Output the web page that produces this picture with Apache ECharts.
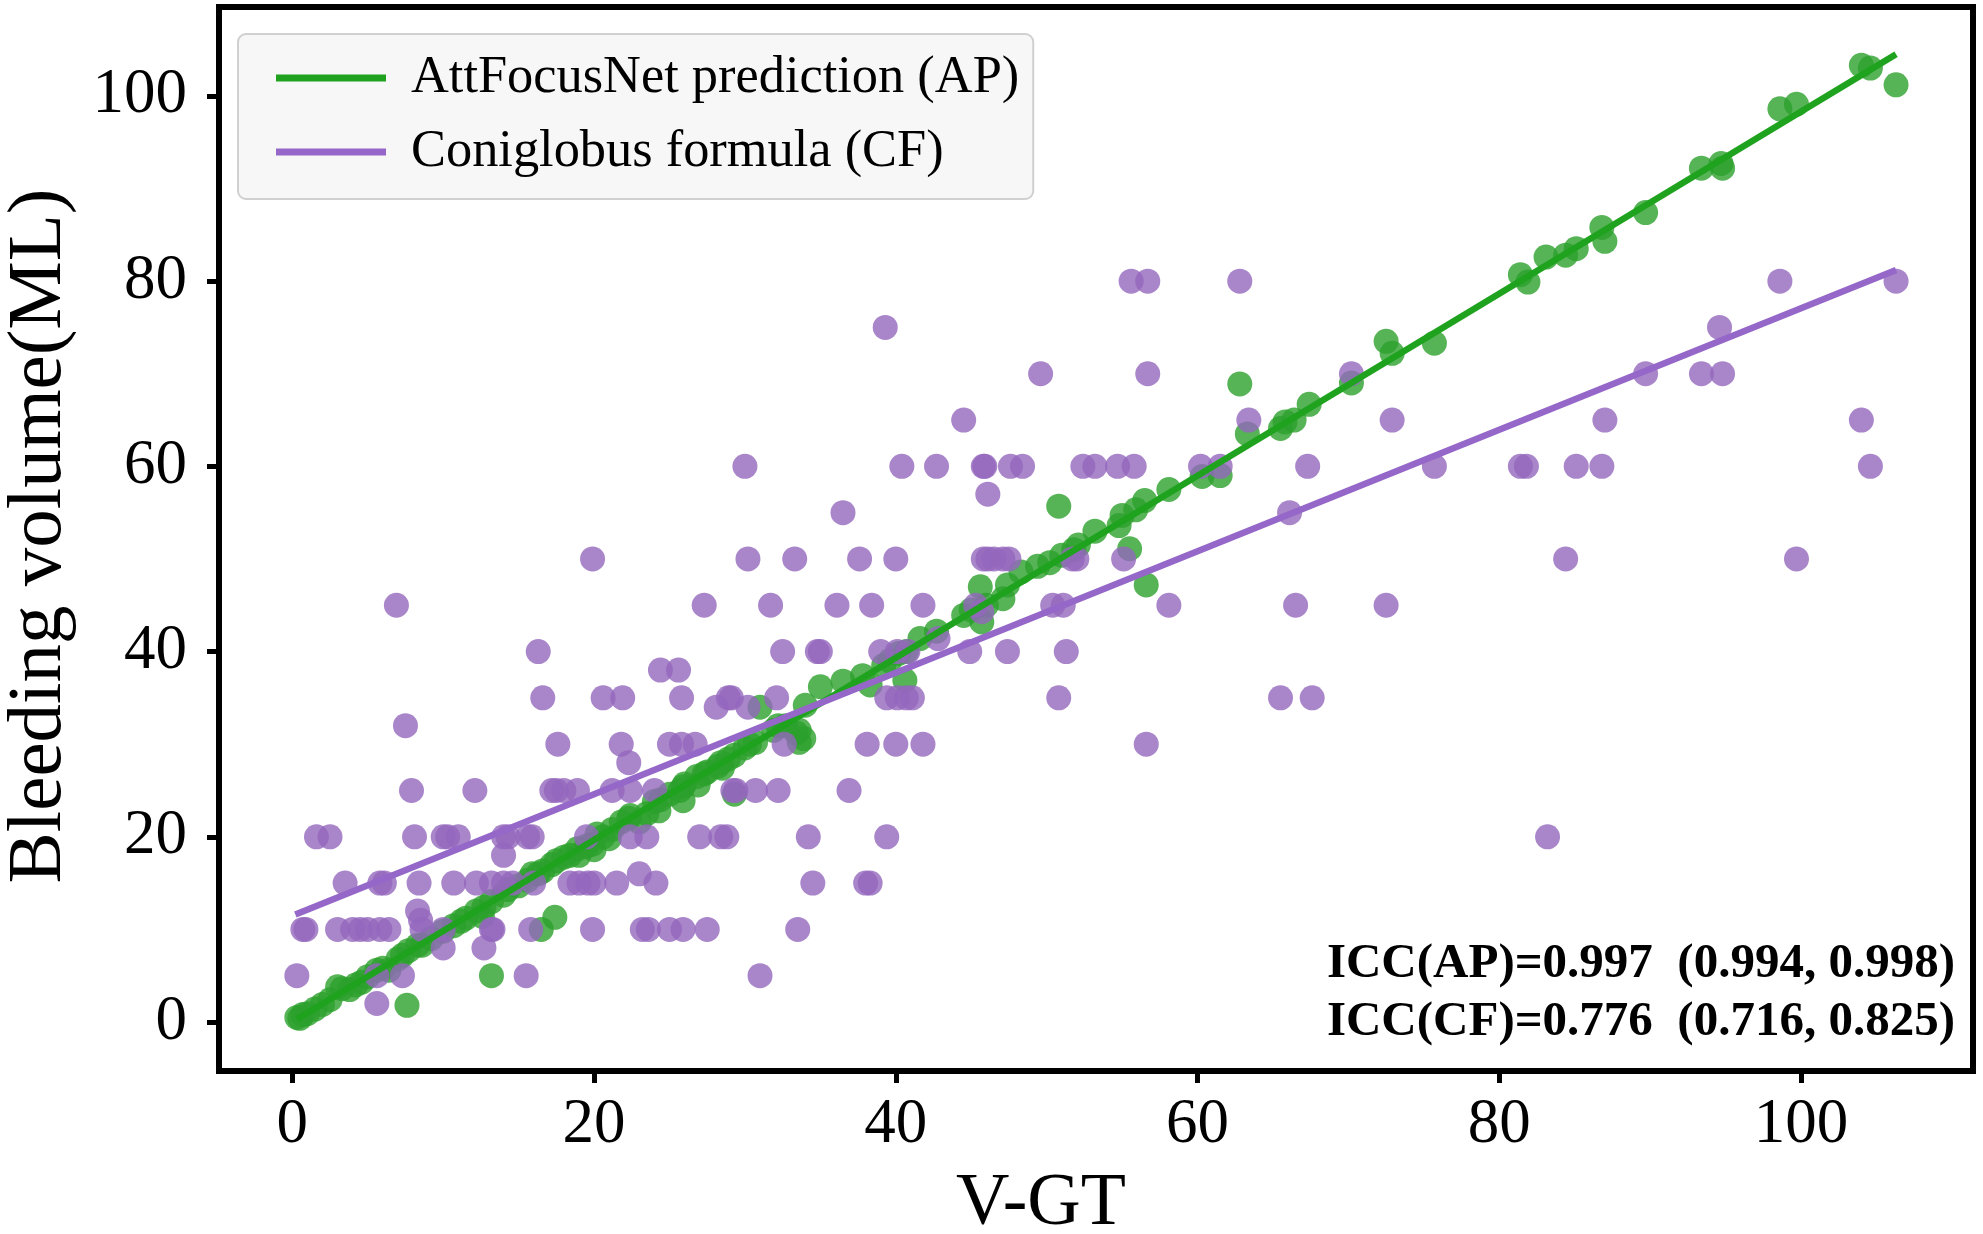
<!DOCTYPE html>
<html><head><meta charset="utf-8">
<style>html,body{margin:0;padding:0;background:#fff}#c{width:1983px;height:1234px}</style>
<script src="https://cdn.jsdelivr.net/npm/echarts@6/dist/echarts.min.js"></script>
</head><body><div id="c"></div>
<script>
const xTicks=[0,20,40,60,80,100];
const yTicks=[0,20,40,60,80,100];
const apName='AttFocusNet prediction (AP)';
const cfName='Coniglobus formula (CF)';
const apLine=[[0.3,0.3],[106.3,104.5]];
const cfLine=[[0.2,11.6],[106.3,81.2]];
const apPoints=[[0.3,0.5],[0.5,0.4],[0.7,0.8],[1,0.9],[1.5,1.4],[2,1.9],[2.5,2.4],[3,3.8],[3.3,3.6],[3.8,3.5],[4.2,4],[4.6,4.3],[5,4.9],[5.6,5.6],[6,5.8],[6.4,5.6],[7,6.8],[7.3,7.2],[7.7,7.7],[8.3,8.3],[8.6,8.3],[9.2,9],[10,9.8],[10.7,10.4],[11.2,10.9],[11.5,11.2],[12.2,12],[12.6,11.4],[12.7,12.4],[13.2,13],[14,13.7],[14.3,14.3],[15,14.7],[15.6,15.3],[15.9,16],[16.3,16],[16.6,16.3],[17.2,17],[17.5,17.4],[18,17.8],[18.4,18],[18.9,18.7],[19,18],[19.5,19],[19.9,19.2],[20,18.6],[20.2,20.3],[20.6,20],[21,19.8],[21.2,20.8],[21.8,21.6],[22.3,22],[22.4,22.3],[23,21.6],[23.5,22.5],[24,23.8],[24.3,22.8],[24.4,24],[25,24.6],[25.7,25],[25.9,23.9],[25.9,25.4],[26,25.7],[26.8,26.5],[26.9,25.6],[27.3,26.8],[27.5,27],[28.2,27.6],[28.4,28],[28.5,27.4],[28.9,28.4],[29.3,28.8],[30,29.6],[30.3,30],[30.7,30.2],[31.9,31.5],[32.2,32],[32.7,32],[33.4,31.2],[33.6,31.5],[33.6,30.2],[34,34.2],[35,36.2],[36.5,36.8],[37.8,37.4],[38.3,36.4],[39.2,38.5],[39.6,39],[40.2,39.8],[40.7,40],[41.6,41.4],[42.7,42.2],[44.5,43.9],[45,44.5],[45.7,43.2],[46,45],[47.1,45.7],[47.4,47.2],[48.3,48.6],[49.4,49.2],[50.2,49.6],[51,50.4],[51.8,51],[52.1,51.5],[53.2,53],[54.8,53.6],[55,54.7],[55.9,55.3],[56.5,56.3],[58.1,57.5],[60.3,58.9],[61.5,59],[63.3,63.5],[65.5,64.1],[65.8,64.8],[66.4,65],[67.4,66.7],[70.2,69],[72.9,72.2],[75.7,73.3],[81.4,80.7],[81.9,79.9],[83.1,82.6],[84.4,82.8],[85.1,83.5],[86.8,85.8],[87,84.3],[89.7,87.4],[93.4,92.2],[94.7,92.7],[94.8,92.2],[98.6,98.6],[99.7,99.1],[104,103.3],[104.6,103],[106.3,101.2]];
const apOutliers=[[7.6,1.8],[13.2,5],[16.5,10],[17.4,11.3],[29.3,24.6],[31,34],[33.9,30.6],[40.6,36.9],[45.6,47],[50.8,55.7],[55.5,51.1],[56.6,47.2],[62.8,68.9],[72.5,73.5]];
const cfPoints=[
[55.6,80],[56.7,80],[62.8,80],[98.6,80],[106.3,80],
[39.3,75],[94.6,75],
[49.6,70],[56.7,70],[70.2,70],[89.7,70],[93.4,70],[94.8,70],
[44.5,65],[63.4,65],[72.9,65],[87,65],[104,65],
[30,60],[40.4,60],[42.7,60],[45.8,60],[45.9,60],[47.6,60],[48.4,60],[52.4,60],[53.2,60],[54.7,60],[55.8,60],[60.2,60],[61.5,60],[67.3,60],[75.7,60],[81.4,60],[81.8,60],[85.1,60],[86.8,60],[104.6,60],
[46.1,57],[36.5,55],[66.1,55],
[19.9,50],[30.2,50],[33.3,50],[37.6,50],[40,50],[45.8,50],[46.1,50],[46.5,50],[47.1,50],[47.5,50],[51.7,50],[52,50],[55.1,50],[84.4,50],[99.7,50],
[6.9,45],[27.3,45],[31.7,45],[36.1,45],[38.4,45],[41.8,45],[45.3,45],[50.4,45],[51.1,45],[58.1,45],[66.5,45],[72.5,45],
[45.7,44.3],
[16.3,40],[32.5,40],[34.8,40],[35,40],[39,40],[40.1,40],[40.8,40],[42.8,41.4],[44.9,40],[47.4,40],[51.3,40],
[24.4,38],[25.6,38],
[16.6,35],[20.6,35],[21.9,35],[25.8,35],[28.9,35],[29.1,35],[32.1,35],[39.4,35],[40.1,35],[40.7,35],[41.1,35],[50.8,35],[65.5,35],[67.6,35],
[28.1,34],[30.2,34],[7.5,32],
[17.6,30],[21.8,30],[25,30],[25.8,30],[26.7,30],[32.6,30],[38.1,30],[40,30],[41.8,30],[56.6,30],
[22.3,28],
[7.9,25],[12.1,25],[17.2,25],[17.5,25],[18,25],[18.9,25],[21.2,25],[22.4,25],[24,25],[29.2,25],[29.4,25],[30.7,25],[32.2,25],[36.9,25],
[1.6,20],[2.5,20],[8.1,20],[10,20],[10.3,20],[11,20],[14,20],[14.3,20],[15.6,20],[15.9,20],[19.5,20],[22.4,20],[23.5,20],[27,20],[28.4,20],[28.8,20],[34.2,20],[39.4,20],[83.2,20],
[14,18],[23,16],
[3.5,15],[5.8,15],[6.1,15],[8.4,15],[10.7,15],[12.2,15],[13.2,15],[14,15],[14.6,15],[16,15],[18.4,15],[19,15],[19.6,15],[20,15],[21.5,15],[24.1,15],[34.5,15],[38,15],[38.3,15],
[8.3,12],[8.5,11],
[0.7,10],[0.9,10],[3,10],[4,10],[4.5,10],[5,10],[5.8,10],[6.4,10],[8.6,10],[10,10],[13.2,10],[13.3,10],[15.8,10],[19.9,10],[23.2,10],[23.6,10],[25,10],[25.9,10],[27.5,10],[33.5,10],
[10,8],[12.7,8],
[0.3,5],[5.6,5],[7.3,5],[15.5,5],[31,5],[5.6,2]
];
const apColor='#2ca02c', cfColor='#9467bd';
const serif='"Liberation Serif", serif';
const chart=echarts.init(document.getElementById('c'),null,{renderer:'canvas'});
const scat=(name,data,color,z)=>({name,type:'scatter',data,symbolSize:25,z,itemStyle:{color,opacity:.8},silent:true});
const line=(name,data,color,lc,z)=>({name,type:'line',data,symbol:'none',z,lineStyle:{color:lc,width:6.5},itemStyle:{color:lc},silent:true});
const axisCommon=(ticks,margin)=>({type:'value',splitLine:{show:false},
  axisLine:{onZero:false,lineStyle:{color:'#000',width:6}},
  axisTick:{length:12,lineStyle:{color:'#000',width:5},customValues:ticks},
  axisLabel:{customValues:ticks,fontFamily:serif,fontSize:63,color:'#000',margin}});
chart.setOption({
 animation:false,backgroundColor:'#fff',
 grid:{left:219,right:10,top:7,bottom:163,show:true,borderColor:'#000',borderWidth:6,backgroundColor:'transparent',containLabel:false,outerBoundsMode:'none'},
 xAxis:Object.assign(axisCommon(xTicks,23),{min:-4.86,max:111.4,name:'V-GT',nameLocation:'middle',nameGap:97,
  nameTextStyle:{fontFamily:serif,fontSize:74,color:'#000',padding:[0,110,0,0]}}),
 yAxis:Object.assign(axisCommon(yTicks,32),{min:-5.29,max:109.6,name:'Bleeding volume(ML)',nameLocation:'middle',nameGap:141,
  nameTextStyle:{fontFamily:serif,fontSize:77,color:'#000',padding:[0,0,0,6]}}),
 legend:{left:238,top:34,orient:'vertical',data:[apName,cfName],itemWidth:110,itemHeight:7,itemGap:22,padding:[18,14,21,38],
  backgroundColor:'rgba(247,247,247,.95)',borderColor:'#d0d0d0',borderWidth:2,borderRadius:8,
  icon:'rect',textStyle:{fontFamily:serif,fontSize:52.4,color:'#000',padding:[0,0,0,20]}},
 series:[
  scat(apName+' pts',apPoints.concat(apOutliers),apColor,2),
  scat(cfName+' pts',cfPoints,cfColor,3),
  line(apName,apLine,apColor,'#1fa31f',4),
  line(cfName,cfLine,cfColor,'#9467c8',5)
 ],
 graphic:[
  {type:'text',right:28,top:940,z:10,style:{text:'ICC(AP)=0.997  (0.994, 0.998)',font:'bold 49px '+serif,fill:'#000'}},
  {type:'text',right:28,top:998,z:10,style:{text:'ICC(CF)=0.776  (0.716, 0.825)',font:'bold 49px '+serif,fill:'#000'}}
 ]
});
</script></body></html>
